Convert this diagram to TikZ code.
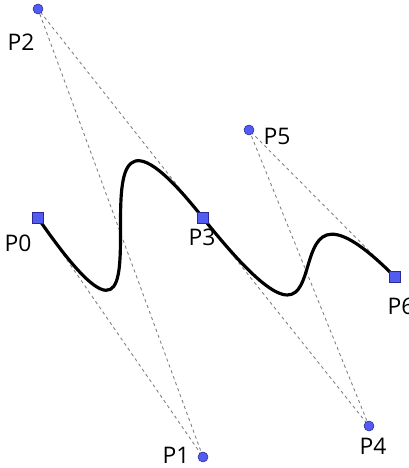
\documentclass[tikz,border=0pt]{standalone}
\usepackage{fontspec}
\setmainfont{Open Sans}
\usepackage{xcolor}
\usepackage{tikz}
\usetikzlibrary{arrows.meta, positioning, calc}

\definecolor{ptfill}{RGB}{82,92,240}
\definecolor{ptdraw}{RGB}{40,40,150}

\begin{document}
\begin{tikzpicture}[
  x=1cm, y=1cm,
  endpt/.style={
    rectangle,
    draw=ptdraw,
    fill=ptfill,
    line width=0.3pt,
    inner sep=0pt,
    minimum size=0.21cm
  },
  ctrlpt/.style={
    circle,
    draw=ptdraw,
    fill=ptfill,
    line width=0.3pt,
    inner sep=0pt,
    minimum size=0.2cm
  },
  guide/.style={
    draw=gray,
    line width=0.5pt,
    dash pattern=on 1.8pt off 1.8pt
  },
  curve/.style={
    line width=1.8pt,
    line cap=round
  },
  ptlabel/.style={
    font=\fontsize{13}{15}\selectfont,
    inner sep=0pt
  }
]

\useasboundingbox (0,0) rectangle (8.18,9.36);

% =========================================================
% Point positions
% =========================================================
\coordinate (P0) at (0.76, 5.00);
\coordinate (P1) at (4.06, 0.22);
\coordinate (P2) at (0.76, 9.18);
\coordinate (P3) at (4.06, 5.00);
\coordinate (P4) at (7.38, 0.84);
\coordinate (P5) at (4.98, 6.76);
\coordinate (P6) at (7.90, 3.82);

% =========================================================
% Control polygon
% =========================================================
\draw[guide] (P0) -- (P1) -- (P2) -- (P3);
\draw[guide] (P3) -- (P4) -- (P5) -- (P6);

% =========================================================
% Composite Bezier curve
% =========================================================
\draw[curve] (P0) .. controls (P1) and (P2) .. (P3)
                  .. controls (P4) and (P5) .. (P6);

% =========================================================
% Markers and labels
% =========================================================
\node[endpt]  (m0) at (P0) {};
\node[ctrlpt] (m1) at (P1) {};
\node[ctrlpt] (m2) at (P2) {};
\node[endpt]  (m3) at (P3) {};
\node[ctrlpt] (m4) at (P4) {};
\node[ctrlpt] (m5) at (P5) {};
\node[endpt]  (m6) at (P6) {};

\node[ptlabel] (l0) at (0.36, 4.49) {P0};
\node[ptlabel] (l1) at (3.52, 0.25) {P1};
\node[ptlabel] (l2) at (0.42, 8.52) {P2};
\node[ptlabel] (l3) at (4.04, 4.61) {P3};
\node[ptlabel] (l4) at (7.46, 0.44) {P4};
\node[ptlabel] (l5) at (5.54, 6.64) {P5};
\node[ptlabel] (l6) at (8.02, 3.24) {P6};

\end{tikzpicture}
\end{document}
